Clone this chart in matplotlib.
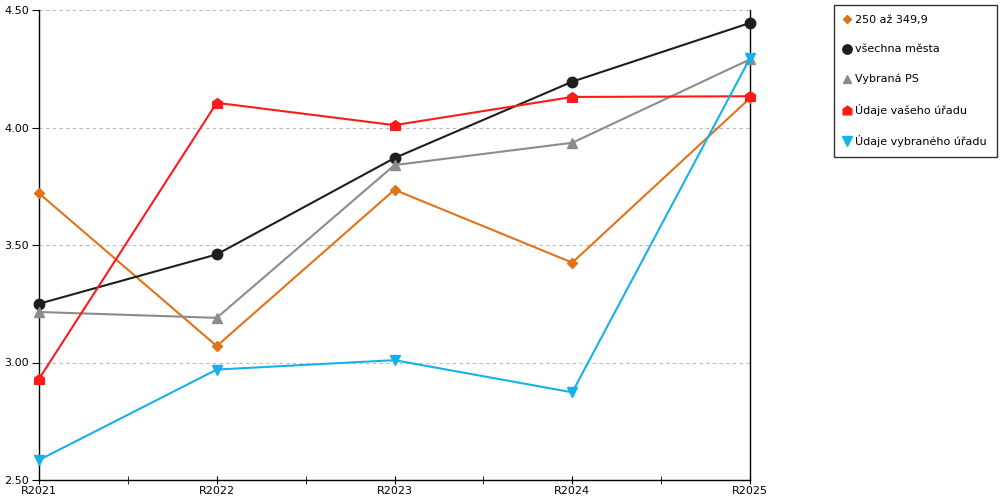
import matplotlib
matplotlib.use("Agg")
from matplotlib import pyplot as plt
from matplotlib.path import Path
import numpy as np

years = ["R2021", "R2022", "R2023", "R2024", "R2025"]
pocet_250 = [3.72, 3.07, 3.735, 3.425, 4.125]
vsechna_mesta = [3.25, 3.46, 3.87, 4.195, 4.445]
vybrana_ps = [3.215, 3.19, 3.84, 3.935, 4.29]
vas_urad = [2.93, 4.105, 4.01, 4.13, 4.133]
vybrany_urad = [2.585, 2.97, 3.01, 2.873, 4.295]

names = ["250 až 349,9", "všechna města", "Vybraná PS",
         "Údaje vašeho úřadu", "Údaje vybraného úřadu"]
colors = ["#E0731A", "#1E1E1E", "#8C8C8C", "#FF1A1A", "#17B1EA"]

# domecek jako znacka pro "vas urad"
house = Path([(-1, -1), (1, -1), (1, 0.3), (0, 1), (-1, 0.3), (-1, -1)],
             [Path.MOVETO] + [Path.LINETO] * 4 + [Path.CLOSEPOLY])
markers = ["D", "o", "^", house, "v"]
msizes = [5, 7.5, 7, 7, 7.5]
series = [pocet_250, vsechna_mesta, vybrana_ps, vas_urad, vybrany_urad]

plt.rcParams['font.family'] = ['DejaVu Sans']
fig = plt.figure(figsize=(10, 5), dpi=100)
ax = fig.add_axes([0.039, 0.04, 0.711, 0.94])

x = np.arange(len(years))
for vals, c, m, ms, n in zip(series, colors, markers, msizes, names):
    ax.plot(x, vals, color=c, marker=m, markersize=ms, linewidth=1.5,
            label=n, clip_on=False, zorder=3)

ax.set_xlim(0, len(years) - 1)
ax.set_ylim(2.5, 4.5)
ax.set_yticks([2.5, 3.0, 3.5, 4.0, 4.5])
ax.set_yticklabels(["%.2f" % v for v in [2.5, 3.0, 3.5, 4.0, 4.5]])
ax.set_xticks(x)
ax.set_xticklabels(years)
ax.set_xticks(x[:-1] + 0.5, minor=True)
ax.tick_params(axis='x', which='both', direction='inout', length=6,
               labelsize=8, pad=1)
ax.tick_params(axis='y', length=5, labelsize=8, pad=2)
ax.grid(axis='y', color='#BBBBBB', linestyle=(0, (3, 3)), linewidth=0.8)
ax.spines['top'].set_visible(False)
for s in ['left', 'right', 'bottom']:
    ax.spines[s].set_color('black')
    ax.spines[s].set_linewidth(1)

leg = fig.legend(loc='upper left', bbox_to_anchor=(0.834, 0.99),
                 fontsize=8, frameon=True, fancybox=False, edgecolor='black',
                 handlelength=0.6, handletextpad=0.4, labelspacing=1.75,
                 borderpad=0.9, borderaxespad=0, markerscale=0.9)
for h in leg.legend_handles:
    h.set_linestyle('None')
leg.get_frame().set_linewidth(1)

plt.savefig("out.png", dpi=100)
